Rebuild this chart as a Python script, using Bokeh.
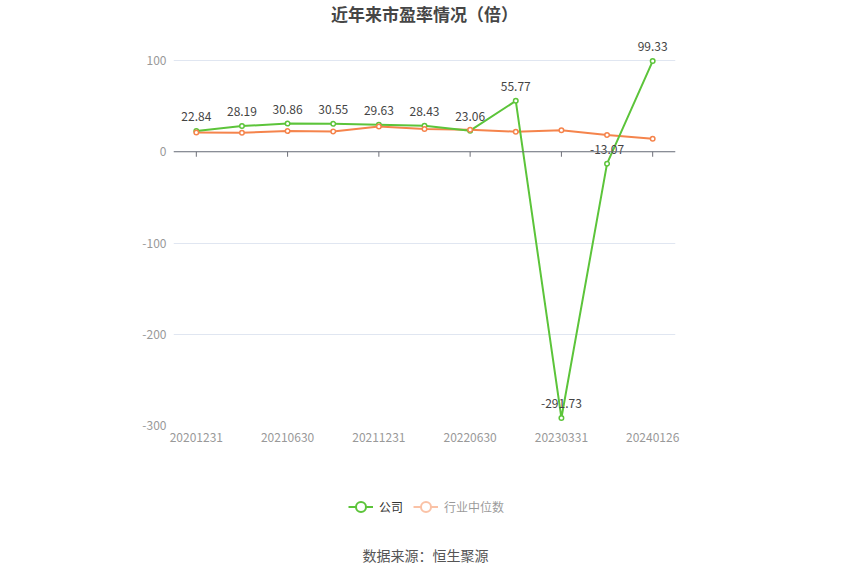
from bokeh.plotting import figure
from bokeh.layouts import column
from bokeh.models import (Range1d, FixedTicker, Legend, LegendItem, Span, ColumnDataSource, Label)
from bokeh.core.properties import value
from bokeh.embed import file_html
from bokeh.resources import INLINE

dates = ["20201231", "20210331", "20210630", "20210930", "20211231", "20220331",
         "20220630", "20221231", "20230331", "20230930", "20240126"]
company = [22.84, 28.19, 30.86, 30.55, 29.63, 28.43, 23.06, 55.77, -291.73, -13.07, 99.33]
industry = [21.2, 20.9, 22.7, 22.3, 27.8, 24.9, 24.2, 22.0, 23.5, 18.4, 14.3]
y_ticks = [-300, -200, -100, 0, 100]
title_text = "近年来市盈率情况（倍）"
source_text = "数据来源：恒生聚源"
series_names = ["公司", "行业中位数"]

FONT = "Noto Sans CJK SC"
GREEN = "#5cc43a"
ORANGE = "#f5844c"
W = 834
TOP_H = 455
BOT_H = 120
FRAME_L, FRAME_R, FRAME_B = 173, 675, 425
PPU = 365 / 400.0  # pixels per unit (100 at y=60, -300 at y=425)

idx = list(range(len(dates)))
src = ColumnDataSource(dict(x=idx, company=company, industry=industry,
                            clabel=[f"{v:.2f}" for v in company]))

p = figure(width=W, height=TOP_H, output_backend="svg", toolbar_location=None,
           x_range=Range1d(-0.5, len(dates) - 0.5),
           y_range=Range1d(-300, 100 + 60 / PPU),
           min_border_left=FRAME_L, min_border_right=W - FRAME_R, min_border_top=0,
           min_border_bottom=TOP_H - FRAME_B)
p.outline_line_color = None

# axes
p.xaxis.ticker = FixedTicker(ticks=idx[::2])
p.xaxis.major_label_overrides = {i: dates[i] for i in idx}
p.xaxis.axis_line_color = None
p.xaxis.major_tick_line_color = None
p.xaxis.major_tick_out = 0
p.xaxis.major_tick_in = 0
p.xaxis.minor_tick_line_color = None
p.xaxis.major_label_text_color = "#999999"
p.xaxis.major_label_text_font = FONT
p.xaxis.major_label_text_font_size = "12px"
p.xaxis.major_label_standoff = 7

p.yaxis.ticker = FixedTicker(ticks=y_ticks)
p.yaxis.major_label_overrides = {t: str(t) for t in y_ticks}
p.yaxis.axis_line_color = None
p.yaxis.major_tick_line_color = None
p.yaxis.major_tick_out = 0
p.yaxis.major_tick_in = 0
p.yaxis.minor_tick_line_color = None
p.yaxis.major_label_text_color = "#999999"
p.yaxis.major_label_text_font = FONT
p.yaxis.major_label_text_font_size = "12px"
p.yaxis.major_label_standoff = 7

p.xgrid.grid_line_color = None
p.ygrid.ticker = FixedTicker(ticks=y_ticks)
p.ygrid.grid_line_color = "#e0e6f1"

# zero axis line and ticks
p.add_layout(Span(location=0, dimension="width", line_color="#6e7079", line_width=1))
p.segment(x0=idx[::2], y0=[0] * len(idx[::2]), x1=idx[::2], y1=[-5 / PPU] * len(idx[::2]),
          line_color="#6e7079", line_width=1)

# series
p.line("x", "industry", source=src, line_color=ORANGE, line_width=2)
p.line("x", "company", source=src, line_color=GREEN, line_width=2)
p.scatter("x", "company", source=src, size=4.5, line_color=GREEN, line_width=1.5, fill_color="white")
p.scatter("x", "industry", source=src, size=4.5, line_color=ORANGE, line_width=1.5, fill_color="white")

p.text("x", "company", text="clabel", source=src, text_font=value(FONT), text_font_size="12px",
       text_color="#444444", text_align="center", text_baseline="bottom", y_offset=-10)

# title (inside the top frame area, in screen units from frame bottom)
p.add_layout(Label(x=(len(dates) - 1) / 2, y=FRAME_B - 13, x_units="data", y_units="screen",
                   text=title_text, text_font=FONT, text_font_size="17px",
                   text_font_style="bold", text_color="#464646",
                   text_align="center", text_baseline="middle"))

# bottom strip: legend + source
q = figure(width=W, height=BOT_H, output_backend="svg", toolbar_location=None,
           x_range=Range1d(FRAME_L, FRAME_R), y_range=Range1d(BOT_H, 0),
           x_axis_type=None, y_axis_type=None, min_border=0)
q.outline_line_color = None
q.grid.visible = False

far = [-1e5, -1e5 + 1]
lg_l1 = q.line(far, far, line_color=GREEN, line_width=2)
lg_s1 = q.scatter(far, far, line_color=GREEN, line_width=2, fill_color="white")
lg_l2 = q.line(far, far, line_color=ORANGE, line_width=2, visible=False)
lg_s2 = q.scatter(far, far, line_color=ORANGE, line_width=2, fill_color="white", visible=False)

legend = Legend(items=[LegendItem(label=series_names[0], renderers=[lg_l1, lg_s1]),
                       LegendItem(label=series_names[1], renderers=[lg_l2, lg_s2])],
                location=(348 - FRAME_L, 56), orientation="horizontal", click_policy="hide",
                inactive_fill_color="white", inactive_fill_alpha=0.5,
                glyph_width=25, glyph_height=25, label_standoff=6, padding=0, margin=0,
                spacing=10, border_line_color=None, background_fill_alpha=0,
                label_text_font=FONT, label_text_font_size="12px", label_text_color="#333333")
q.add_layout(legend, "center")

q.add_layout(Label(x=425, y=99, text=source_text, text_font=FONT, text_font_size="14px",
                   text_color="#555555", text_align="center", text_baseline="middle"))

open("out.html", "w").write(file_html(column(p, q, spacing=0), INLINE))
